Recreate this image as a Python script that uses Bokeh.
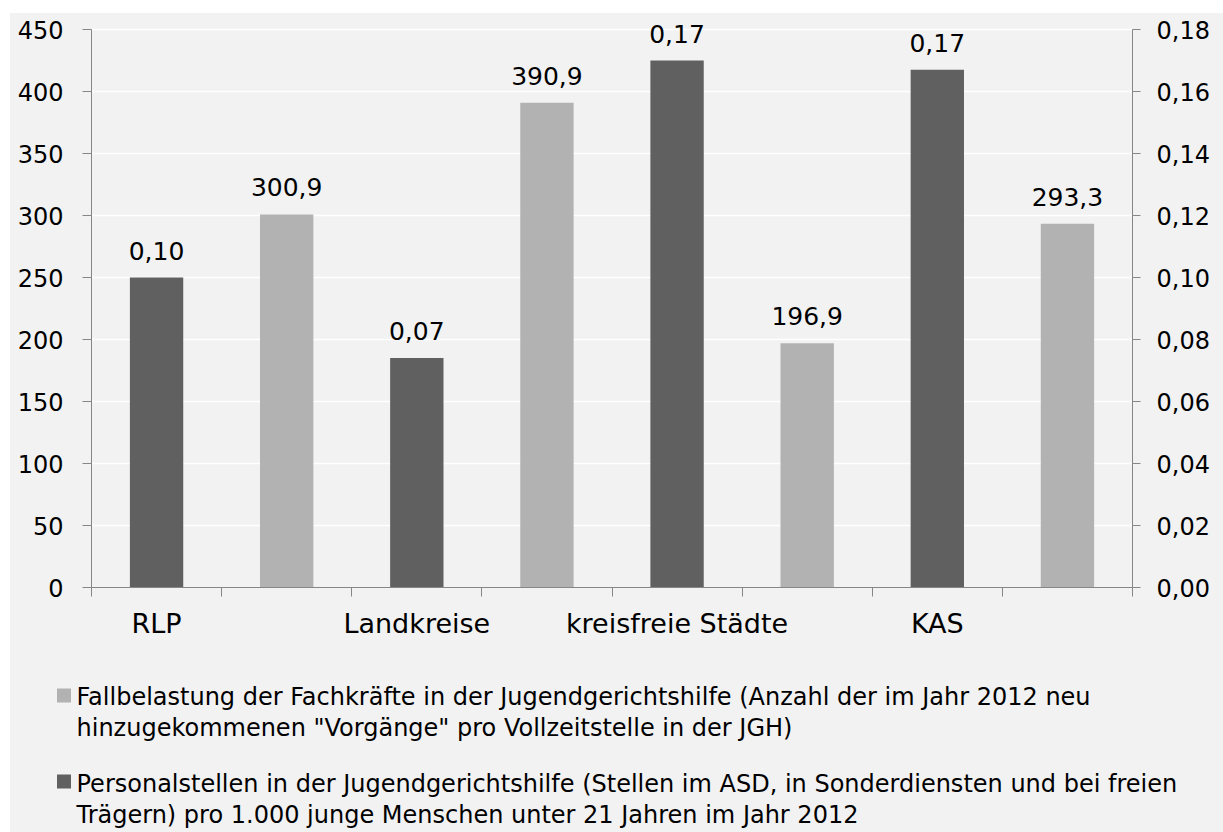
from bokeh.plotting import figure
from bokeh.models import Range1d, LinearAxis, FixedTicker, CustomJSTickFormatter, Spacer, LabelSet, ColumnDataSource
from bokeh.layouts import column, row
from bokeh.core.properties import value
from bokeh.embed import file_html
from bokeh.resources import INLINE

# ---- data ----
groups = ["RLP", "Landkreise", "kreisfreie Städte", "KAS"]
personal = [0.100, 0.074, 0.170, 0.167]          # right axis (dark bars)
fall = [300.9, 390.9, 196.9, 293.3]               # left axis (light bars)
left_ticks = [0, 50, 100, 150, 200, 250, 300, 350, 400, 450]
right_ticks = [0.00, 0.02, 0.04, 0.06, 0.08, 0.10, 0.12, 0.14, 0.16, 0.18]
legend_fall = ["Fallbelastung der Fachkräfte in der Jugendgerichtshilfe (Anzahl der im Jahr 2012 neu",
               "hinzugekommenen \"Vorgänge\" pro Vollzeitstelle in der JGH)"]
legend_personal = ["Personalstellen in der Jugendgerichtshilfe (Stellen im ASD, in Sonderdiensten und bei freien",
                   "Trägern) pro 1.000 junge Menschen unter 21 Jahren im Jahr 2012"]

BG = "#f2f2f2"
DARK = "#606060"
LIGHT = "#b2b2b2"
AXIS = "#868686"
FONT = "DejaVu Sans"

# layout (pixels)
PAD_L, PAD_T = 10, 13
FIG_W = 1223 - PAD_L
FRAME_L, FRAME_R = 81, 91
HEADROOM = 16           # px above the 450 line (room for value labels)
AXIS_H = 558            # px from 0 to 450
BOTTOM = 70
MAIN_H = HEADROOM + AXIS_H + BOTTOM
LEG_H = 832 - PAD_T - MAIN_H

scale_top = (AXIS_H + HEADROOM) / AXIS_H
left_max, right_max = left_ticks[-1], right_ticks[-1]

dark_x = [2 * i for i in range(len(groups))]
light_x = [2 * i + 1 for i in range(len(groups))]
personal_lbl = [f"{v:.2f}".replace(".", ",") for v in personal]
fall_lbl = [f"{v:.1f}".replace(".", ",") for v in fall]

p = figure(width=FIG_W, height=MAIN_H, x_range=Range1d(-0.5, 7.5),
           y_range=Range1d(0, left_max * scale_top),
           output_backend="svg", toolbar_location=None,
           min_border_left=FRAME_L, min_border_right=FRAME_R, min_border_top=0, min_border_bottom=BOTTOM,
           background_fill_color=BG, border_fill_color=BG, outline_line_color=None)
p.frame_align = False
p.extra_y_ranges = {"right": Range1d(0, right_max * scale_top)}

# bars
p.vbar(x=dark_x, top=personal, width=0.41, y_range_name="right", fill_color=DARK, line_color=None)
p.vbar(x=light_x, top=fall, width=0.41, fill_color=LIGHT, line_color=None)

# value labels
src_d = ColumnDataSource(dict(x=dark_x, y=personal, t=personal_lbl))
src_l = ColumnDataSource(dict(x=light_x, y=fall, t=fall_lbl))
for src, rn in ((src_d, "right"), (src_l, "default")):
    ls = LabelSet(x="x", y="y", text="t", source=src, y_range_name=rn,
                  text_align="center", text_baseline="alphabetic", y_offset=18,
                  text_font=value(FONT), text_font_size="25px", text_color="#000000")
    p.add_layout(ls)

# grid
p.xgrid.visible = False
p.ygrid.ticker = FixedTicker(ticks=left_ticks)
p.ygrid.grid_line_color = "white"
p.ygrid.grid_line_width = 1.5

# left axis
ya = p.yaxis[0]
ya.ticker = FixedTicker(ticks=left_ticks)
ya.bounds = (0, left_max)
ya.major_tick_out = 9
ya.major_tick_in = 0
ya.minor_tick_out = 0
ya.minor_tick_in = 0
ya.major_label_standoff = 19

# right axis
ra = LinearAxis(y_range_name="right", ticker=FixedTicker(ticks=right_ticks), bounds=(0, right_max),
                formatter=CustomJSTickFormatter(code="return tick.toFixed(2).replace('.', ',');"))
ra.major_tick_out = 8
ra.major_tick_in = 0
ra.minor_tick_out = 0
ra.minor_tick_in = 0
ra.major_label_standoff = 16
p.add_layout(ra, "right")

# x axis
xa = p.xaxis[0]
xa.ticker = FixedTicker(ticks=[0, 2, 4, 6], minor_ticks=[k - 0.5 for k in range(9)])
xa.major_label_overrides = {2 * i: g for i, g in enumerate(groups)}
xa.major_tick_out = 0
xa.major_tick_in = 0
xa.minor_tick_out = 9
xa.minor_tick_in = 0
xa.major_label_standoff = 11

for ax in (ya, ra, xa):
    ax.axis_line_color = AXIS
    ax.major_tick_line_color = AXIS
    ax.minor_tick_line_color = AXIS
    ax.major_label_text_font = FONT
    ax.major_label_text_color = "#000000"
ya.major_label_text_font_size = "24px"
ra.major_label_text_font_size = "24px"
xa.major_label_text_font_size = "27px"

# legend figure (pixel coordinates, y downward)
leg = figure(width=FIG_W, height=LEG_H, x_range=Range1d(0, FIG_W), y_range=Range1d(LEG_H, 0),
             output_backend="svg", toolbar_location=None, x_axis_location=None, y_axis_location=None,
             min_border=0, background_fill_color=BG, border_fill_color=BG, outline_line_color=None)
leg.frame_align = False
leg.xgrid.visible = False
leg.ygrid.visible = False
leg.scatter(x=[53.5, 53.5], y=[38, 124], marker="square", size=14, fill_color=[LIGHT, DARK], line_color=None)
leg.text(x=[66, 66, 66, 66], y=[39.5, 70, 126, 157],
         text=legend_fall + legend_personal,
         text_align="left", text_baseline="alphabetic",
         text_font=value(FONT), text_font_size="24px", text_color="#000000")

col = column(Spacer(height=PAD_T, styles={"background-color": "white"}), p, leg,
             styles={"background-color": BG})
layout = row(Spacer(width=PAD_L), col)
open("out.html", "w").write(file_html(layout, INLINE))
